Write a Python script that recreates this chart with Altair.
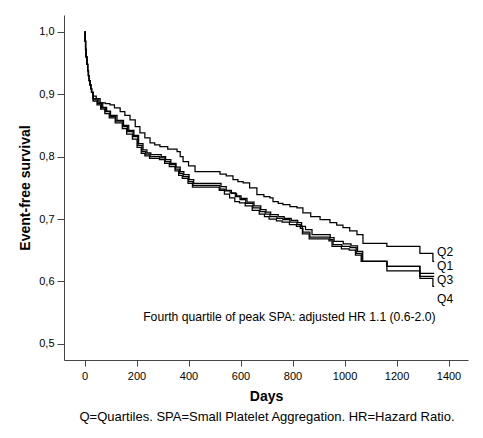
import altair as alt
import pandas as pd

# shared initial steep drop (all quartiles)
start_days = [0, 2, 4, 6, 9, 12, 15, 18, 21, 24, 27]
start_surv = [1.0, 0.985, 0.972, 0.96, 0.948, 0.938, 0.93, 0.922, 0.915, 0.909, 0.903]

q2_days = [33, 45, 60, 80, 98, 115, 137, 155, 175, 195, 213, 232, 252, 270, 290, 320, 356, 368, 379, 400,
           425, 521, 545, 571, 590, 610, 635, 663, 690, 713, 725, 745, 763, 790, 817, 840, 870, 906, 944,
           970, 994, 1020, 1048, 1071, 1163, 1290, 1340, 1345]
q2_surv = [0.897, 0.893, 0.886, 0.885, 0.883, 0.878, 0.872, 0.866, 0.859, 0.848, 0.838, 0.830, 0.822, 0.819,
           0.816, 0.812, 0.808, 0.800, 0.792, 0.785, 0.776, 0.772, 0.769, 0.763, 0.760, 0.758, 0.750, 0.739,
           0.736, 0.734, 0.728, 0.725, 0.723, 0.720, 0.718, 0.710, 0.704, 0.699, 0.694, 0.690, 0.686, 0.681,
           0.675, 0.661, 0.656, 0.645, 0.632, 0.632]

q1_days = [33, 55, 70, 85, 100, 125, 150, 170, 190, 208, 225, 240, 255, 295, 312, 332, 352, 368, 382, 402,
           420, 525, 545, 565, 585, 602, 625, 652, 678, 698, 716, 745, 768, 795, 820, 835, 850, 875, 945,
           960, 995, 1025, 1050, 1070, 1163, 1290, 1345]
q1_surv = [0.893, 0.886, 0.879, 0.873, 0.866, 0.858, 0.850, 0.842, 0.834, 0.821, 0.811, 0.806, 0.803, 0.800,
           0.795, 0.789, 0.783, 0.776, 0.771, 0.763, 0.757, 0.752, 0.746, 0.741, 0.737, 0.733, 0.727, 0.721,
           0.715, 0.711, 0.707, 0.704, 0.701, 0.698, 0.694, 0.688, 0.683, 0.675, 0.670, 0.664, 0.660, 0.657,
           0.648, 0.632, 0.624, 0.613, 0.613]

q3_days = [33, 50, 65, 80, 98, 120, 148, 165, 187, 205, 221, 235, 252, 290, 310, 329, 350, 365, 379, 400,
           417, 521, 540, 560, 580, 598, 620, 648, 675, 695, 713, 740, 763, 790, 817, 830, 840, 867, 944,
           956, 990, 1021, 1045, 1067, 1163, 1290, 1345]
q3_surv = [0.891, 0.885, 0.878, 0.872, 0.864, 0.857, 0.848, 0.840, 0.832, 0.818, 0.808, 0.804, 0.800, 0.798,
           0.792, 0.787, 0.780, 0.773, 0.768, 0.760, 0.754, 0.748, 0.745, 0.742, 0.736, 0.731, 0.725, 0.718,
           0.712, 0.708, 0.704, 0.701, 0.699, 0.695, 0.691, 0.685, 0.679, 0.671, 0.667, 0.659, 0.656, 0.654,
           0.645, 0.632, 0.624, 0.608, 0.608]

q4_days = [33, 48, 62, 78, 95, 118, 145, 162, 184, 202, 218, 232, 250, 288, 308, 326, 348, 362, 376, 398,
           415, 518, 538, 558, 578, 596, 618, 645, 672, 692, 710, 738, 760, 788, 815, 838, 864, 940, 952,
           988, 1018, 1042, 1064, 1163, 1290, 1340, 1345]
q4_surv = [0.889, 0.883, 0.876, 0.869, 0.862, 0.854, 0.845, 0.836, 0.828, 0.815, 0.805, 0.801, 0.797, 0.795,
           0.789, 0.784, 0.777, 0.770, 0.765, 0.757, 0.751, 0.746, 0.740, 0.734, 0.728, 0.726, 0.721, 0.714,
           0.708, 0.704, 0.700, 0.697, 0.695, 0.691, 0.688, 0.676, 0.668, 0.665, 0.656, 0.652, 0.650, 0.642,
           0.632, 0.617, 0.605, 0.592, 0.592]

curve_labels = ["Q2", "Q1", "Q3", "Q4"]
label_day = [1356, 1356, 1356, 1356]
label_surv = [0.647, 0.625, 0.603, 0.572]

x_ticks = [0, 200, 400, 600, 800, 1000, 1200, 1400]
y_ticks = [0.5, 0.6, 0.7, 0.8, 0.9, 1.0]

annotation = "Fourth quartile of peak SPA: adjusted HR 1.1 (0.6-2.0)"
footnote = "Q=Quartiles. SPA=Small Platelet Aggregation. HR=Hazard Ratio."

rows = []
for name, d, s in [("Q1", q1_days, q1_surv), ("Q3", q3_days, q3_surv),
                   ("Q4", q4_days, q4_surv), ("Q2", q2_days, q2_surv)]:
    for i, (x, y) in enumerate(zip(start_days + d, start_surv + s)):
        rows.append({"quartile": name, "day": x, "surv": y, "order": i})
df = pd.DataFrame(rows)

lab_df = pd.DataFrame({"label": curve_labels, "day": label_day, "surv": label_surv})
ann_df = pd.DataFrame({"text": [annotation], "day": [788], "surv": [0.543]})
foot_df = pd.DataFrame({"text": [footnote]})

FONT = "Liberation Sans"
x_scale = alt.Scale(domain=[-79, 1475], nice=False, zero=False)
y_scale = alt.Scale(domain=[0.474, 1.027], nice=False, zero=False)

lines = alt.Chart(df).mark_line(interpolate="step-after", color="black", strokeWidth=1.25).encode(
    x=alt.X("day:Q", scale=x_scale,
            axis=alt.Axis(title="Days", values=x_ticks, format="d", tickSize=6, labelPadding=4,
                          titlePadding=8)),
    y=alt.Y("surv:Q", scale=y_scale,
            axis=alt.Axis(title="Event-free survival", values=y_ticks, tickSize=7, labelPadding=3,
                          titlePadding=6,
                          labelExpr="replace(format(datum.value, '.1f'), '.', ',')")),
    detail="quartile:N",
    order="order:Q",
)

labels = alt.Chart(lab_df).mark_text(align="left", baseline="middle", font=FONT, fontSize=12,
                                     color="black").encode(
    x=alt.X("day:Q", scale=x_scale), y=alt.Y("surv:Q", scale=y_scale), text="label:N")

ann = alt.Chart(ann_df).mark_text(align="center", baseline="middle", font=FONT, fontSize=12.2,
                                  color="black").encode(
    x=alt.X("day:Q", scale=x_scale), y=alt.Y("surv:Q", scale=y_scale), text="text:N")

foot = alt.Chart(foot_df).mark_text(align="center", baseline="middle", font=FONT, fontSize=13,
                                    color="black").encode(
    x=alt.value(203), y=alt.value(402), text="text:N")

chart = alt.layer(lines, labels, ann, foot).properties(
    width=404, height=345,
    autosize=alt.AutoSizeParams(type="none"),
    padding={"left": 56, "top": 7, "right": 7, "bottom": 70},
).configure_view(stroke=None).configure_axis(
    grid=False, domainColor="#444", tickColor="#444", labelColor="black", titleColor="black",
    labelFont=FONT, labelFontSize=11, titleFont=FONT, titleFontSize=14, titleFontWeight="bold",
)

chart.save("out.html", embed_options={"renderer": "svg", "actions": False})
